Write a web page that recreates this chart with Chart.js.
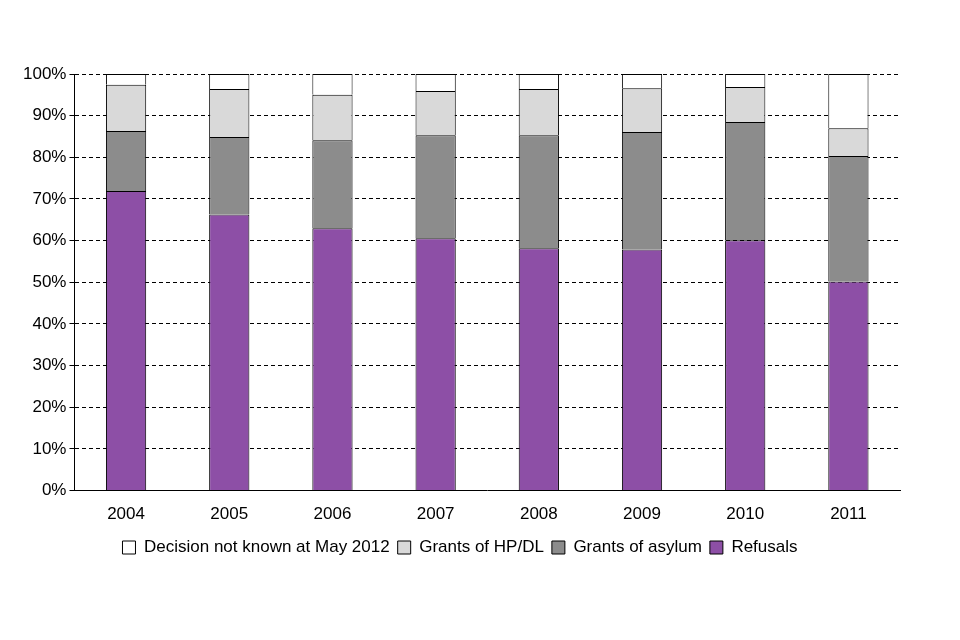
<!DOCTYPE html>
<html>
<head>
<meta charset="utf-8">
<script src="https://cdn.jsdelivr.net/npm/chart.js@4"></script>
<style>
  html, body { margin: 0; padding: 0; background: #fff; }
  #wrap { width: 960px; height: 640px; }
</style>
</head>
<body>
<div id="wrap"><canvas id="bieuDo" width="960" height="640"></canvas></div>
<script>
// dữ liệu (phần trăm)
const nam = ["2004", "2005", "2006", "2007", "2008", "2009", "2010", "2011"];
const tuChoi = [71.9, 66.3, 63.0, 60.6, 58.2, 57.9, 60.1, 50.2];
const tiNan = [14.4, 18.6, 21.1, 24.7, 27.1, 28.2, 28.4, 30.1];
const hpDl = [11.1, 11.5, 10.9, 10.6, 11.1, 10.5, 8.4, 6.7];
const chuaRo = [2.6, 3.6, 5.0, 4.1, 3.6, 3.4, 3.1, 13.0];

function taoCot(nhan, data, mau) {
    return {
        label: nhan,
        data: data,
        backgroundColor: mau,
        borderColor: "#000",
        borderWidth: 1,
        barPercentage: 0.39,
        categoryPercentage: 1,
    };
}

Chart.defaults.font.family = "'Liberation Sans', Arial, sans-serif";
Chart.defaults.font.size = 17;
Chart.defaults.color = "#000";

new Chart(document.getElementById("bieuDo"), {
    type: "bar",
    data: {
        labels: nam,
        datasets: [
            taoCot("Refusals", tuChoi, "#8d4fa6"),
            taoCot("Grants of asylum", tiNan, "#8c8c8c"),
            taoCot("Grants of HP/DL", hpDl, "#d9d9d9"),
            taoCot("Decision not known at May 2012", chuaRo, "#ffffff"),
        ],
    },
    options: {
        responsive: false,
        animation: false,
        layout: { padding: { top: 74, right: 60, left: 20, bottom: 74 } },
        plugins: {
            legend: {
                position: "bottom",
                reverse: true,
                labels: { boxWidth: 13, boxHeight: 13, padding: 8, color: "#000" },
            },
            tooltip: { enabled: false },
        },
        scales: {
            x: {
                stacked: true,
                grid: { display: false },
                border: { color: "#000" },
                ticks: { padding: 6 },
            },
            y: {
                stacked: true,
                min: 0,
                max: 100,
                ticks: { stepSize: 10, callback: (v) => v + "%" },
                grid: { color: "#000", tickLength: 5 },
                border: { color: "#000", dash: [4, 3] },
            },
        },
    },
});
</script>
</body>
</html>
